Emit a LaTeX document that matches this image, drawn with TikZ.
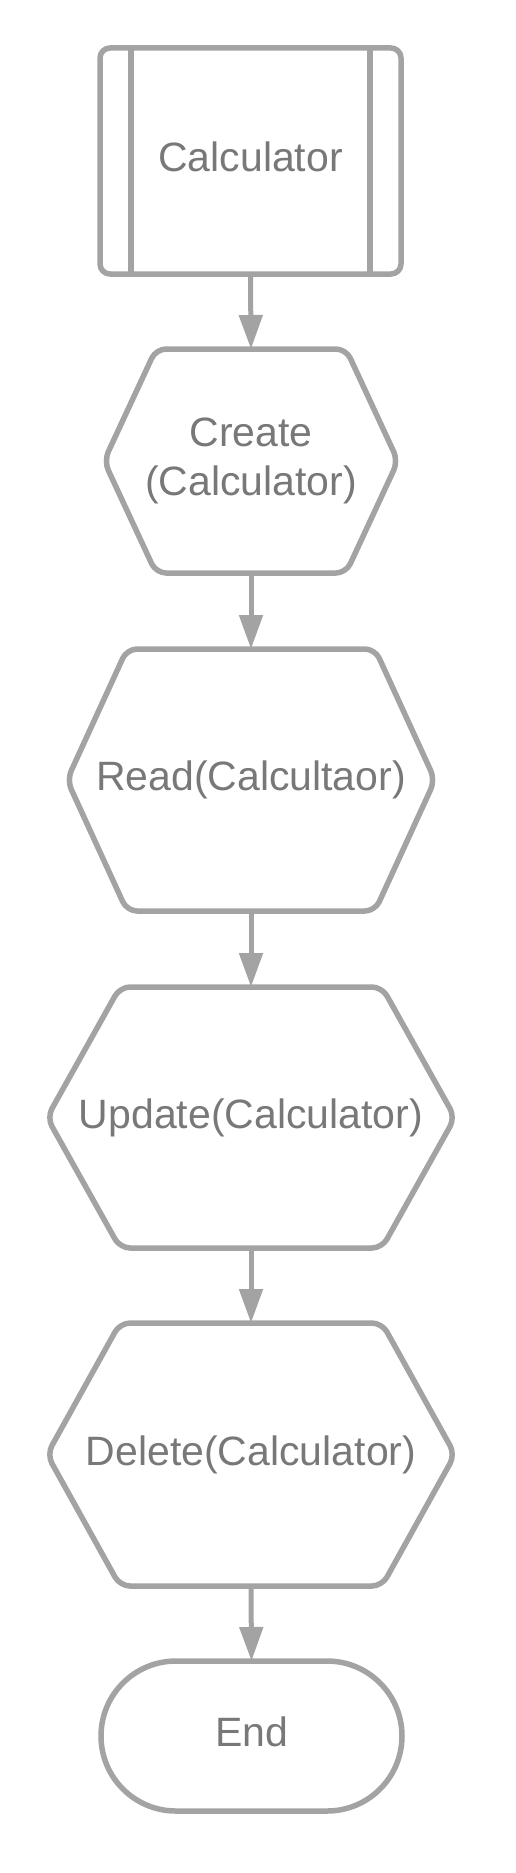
\documentclass[tikz,border=0pt]{standalone}
\usepackage{fontspec}
\setmainfont{Liberation Sans}
\usepackage{xcolor}
\usepackage{tikz}
\usetikzlibrary{positioning, arrows.meta, calc}
\usetikzlibrary{shapes.misc}
\definecolor{lineGray}{HTML}{A3A3A3}
\definecolor{textGray}{HTML}{787878}
\tikzset{
    flowtext/.style={text=textGray, font=\fontsize{41}{49}\selectfont, align=center,
        inner sep=0pt, outer sep=0pt},
    oneline/.style={text height=30pt, text depth=8.6pt},
    shapeline/.style={draw=lineGray, line width=5.5pt, line join=round},
    hexcore/.style={rectangle, inner sep=0pt, outer sep=0pt},
    flowarrow/.style={draw=lineGray, line width=5pt, -{Triangle[length=34pt,width=23pt]}}
}
\newcommand{\hexoutline}[2]{%
    \draw[shapeline, rounded corners=10pt] ([xshift=-#2]#1.west) -- (#1.north west)
        -- (#1.north east) -- ([xshift=#2]#1.east) -- (#1.south east) -- (#1.south west) -- cycle;}

\begin{document}
\begin{tikzpicture}[x=1pt,y=-1pt]
            \useasboundingbox (0,0) rectangle (516,1873);

            % Calculator (predefined process)
            \node[flowtext, oneline, shapeline, rectangle, rounded corners=10pt,
                minimum width=301pt, minimum height=226pt] (calc) at (250.5,161) {Calculator};
            \draw[shapeline] ([xshift=31pt]calc.north west) -- ([xshift=31pt]calc.south west);
            \draw[shapeline] ([xshift=-31pt]calc.north east) -- ([xshift=-31pt]calc.south east);

            % Create
            \node[hexcore, minimum width=190pt, minimum height=224pt,
                label={[flowtext, name=createtxt]center:Create\\(Calculator)}] (create) at (251,461) {};
            \hexoutline{create}{52pt}

            % Read
            \node[hexcore, minimum width=248pt, minimum height=262pt,
                label={[flowtext, oneline, name=readtxt]center:Read(Calcultaor)}] (read) at (251,780) {};
            \hexoutline{read}{60pt}

            % Update
            \node[hexcore, minimum width=262pt, minimum height=261pt,
                label={[flowtext, oneline, name=updatetxt]center:Update(Calculator)}] (update) at (251,1117.5) {};
            \hexoutline{update}{73pt}

            % Delete
            \node[hexcore, minimum width=262pt, minimum height=263pt,
                label={[flowtext, oneline, name=deletetxt]center:Delete(Calculator)}] (delete) at (251,1454.5) {};
            \hexoutline{delete}{73pt}

            % End (terminator)
            \node[flowtext, oneline, shapeline, rounded rectangle,
                minimum width=301pt, minimum height=150pt] (end) at (251.5,1736) {End};

            % Arrows
            \draw[flowarrow] (calc.south) -- (create.north);
            \draw[flowarrow] (create.south) -- (read.north);
            \draw[flowarrow] (read.south) -- (update.north);
            \draw[flowarrow] (update.south) -- (delete.north);
            \draw[flowarrow] (delete.south) -- (end.north);
        \end{tikzpicture}
\end{document}
